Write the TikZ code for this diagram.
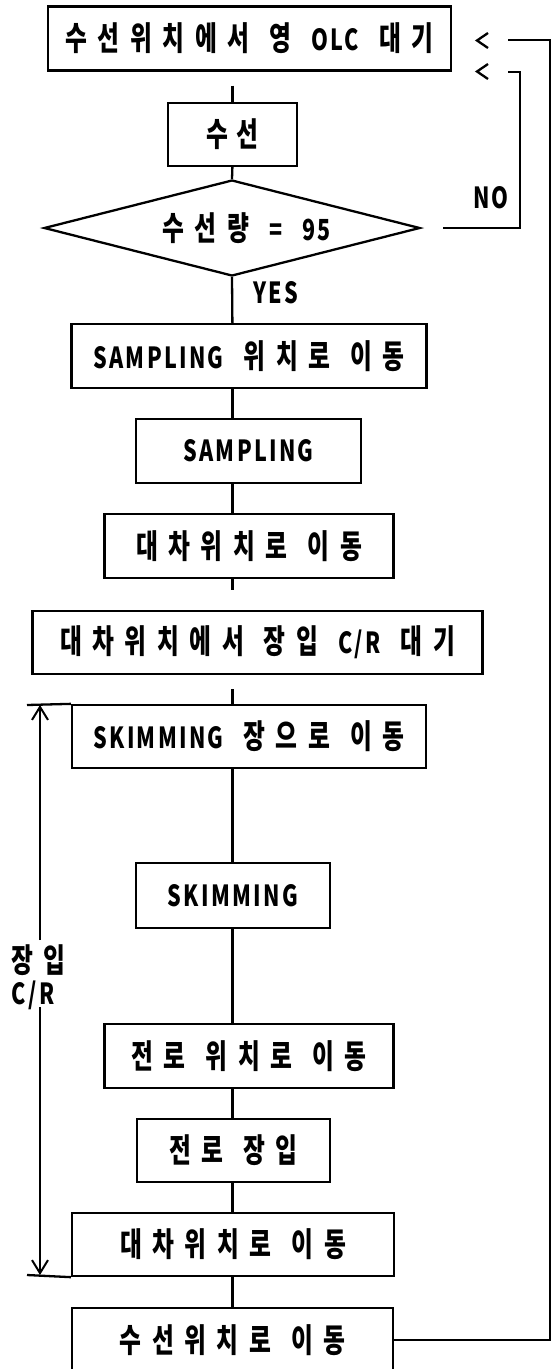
\documentclass[tikz,border=0pt]{standalone}
\usepackage{fontspec}
\setmainfont{Noto Sans CJK KR}[FakeStretch=0.72,LetterSpace=32]
\newfontfamily\la{Noto Sans CJK KR}[Scale=0.88,FakeStretch=0.74,LetterSpace=8]
\newcommand{\wsp}{\hspace{20pt}}
\usetikzlibrary{shapes.geometric,arrows.meta}
\begin{document}
\begin{tikzpicture}[x=1pt,y=-1pt,
  every node/.style={font=\fontsize{33}{32}\selectfont\bfseries},
  box/.style={draw,line width=2.3pt,rectangle,inner sep=0pt},
  conn/.style={line width=2.3pt},
  tip/.style={-{Straight Barb[length=13pt,width=16pt,line width=2pt]}},
  lab/.style={inner sep=0pt}]
\useasboundingbox (0,0) rectangle (552,1369);
\coordinate (sp) at (232.4,0);
% boxes
\node[box,minimum width=403,minimum height=64] (n1) at (249.5,38.5) {수선위치에서\wsp 영\wsp{\la OLC}\wsp 대기};
\node[box,minimum width=129,minimum height=63] (n2) at (232.5,134.5) {수\hspace{9pt}선};
\node[draw,line width=2.3pt,diamond,aspect=3.92,inner sep=0pt,minimum width=376,minimum height=96] (dia) at (232,228) {\hspace*{29pt}수선량\wsp{\la =}\wsp{\la 95}};
\node[box,minimum width=355,minimum height=64] (n3) at (249,356) {{\la SAMPLING}\wsp 위치로\wsp 이동};
\node[box,minimum width=225,minimum height=64] (n4) at (248.5,451) {\la SAMPLING};
\node[box,minimum width=289,minimum height=64] (n5) at (249,546) {대차위치로\wsp 이동};
\node[box,minimum width=450,minimum height=63] (n6) at (257.5,642.5) {대차위치에서\wsp 장입\wsp{\la C/R}\wsp 대기};
\node[box,minimum width=354,minimum height=63] (n7) at (249,736.5) {{\la SKIMMING}\wsp 장으로\wsp 이동};
\node[box,minimum width=194,minimum height=65] (n8) at (233,895.5) {\la SKIMMING};
\node[box,minimum width=289,minimum height=64] (n9) at (249,1056) {전로\wsp 위치로\wsp 이동};
\node[box,minimum width=193,minimum height=63] (n10) at (233.3,1150.5) {전로\wsp 장입};
\node[box,minimum width=322,minimum height=63] (n11) at (233,1244.5) {대차위치로\wsp 이동};
\node[box,minimum width=321,minimum height=64] (n12) at (232.5,1340) {수선위치로\wsp 이동};
% main spine
\draw[conn,shorten <=14pt] (n1.south -| sp) -- (n2.north -| sp);
\draw[conn] (n2.south -| sp) -- (dia.north);
\draw[conn] (dia.south) -- (n3.north -| sp);
\draw[conn] (n3.south -| sp) -- (n4.north -| sp);
\draw[conn] (n4.south -| sp) -- (n5.north -| sp);
\draw[conn,shorten >=20pt] (n5.south -| sp) -- (n6.north -| sp);
\draw[conn,shorten <=14pt] (n6.south -| sp) -- (n7.north -| sp);
\draw[conn] (n7.south -| sp) -- (n8.north -| sp);
\draw[conn] (n8.south -| sp) -- (n9.north -| sp);
\draw[conn] (n9.south -| sp) -- (n10.north -| sp);
\draw[conn] (n10.south -| sp) -- (n11.north -| sp);
\draw[conn] (n11.south -| sp) -- (n12.north -| sp);
\node[lab] (yes) at (275.5,293) {\la YES};
% NO loop
\coordinate (noC) at (520,72);
\coordinate (noE) at (508,72);
\draw[conn,shorten <=22pt] (dia.east) -| (noC) -- (noE);
\node[lab] (no) at (491,198) {\la NO};
% big loop
\coordinate (bigC) at (550,40);
\coordinate (bigE) at (508,40);
\draw[conn] (n12.east) -| (bigC) -- (bigE);
% chevrons
\draw[conn,line join=miter] (488,33) -- (477,40.5) -- (488,48);
\draw[conn,line join=miter] (488,64) -- (477,71.5) -- (488,79);
% left C/R arrows
\coordinate (hT) at (27,705);
\coordinate (hB) at (27,1275);
\coordinate (crU) at (40,940);
\coordinate (crTop) at (40,705);
\coordinate (crD) at (40,1007);
\coordinate (crBot) at (40,1275);
\draw[conn] (hT) -- (n7.north west);
\draw[conn] (hB) -- (n11.south west);
\draw[conn,tip] (crU) -- (crTop);
\draw[conn,tip] (crD) -- (crBot);
\node[lab,anchor=west,align=left] (cr) at (11,977) {장입\\{\la C\hspace{3pt}/\hspace{3pt}R}};
\end{tikzpicture}
\end{document}
